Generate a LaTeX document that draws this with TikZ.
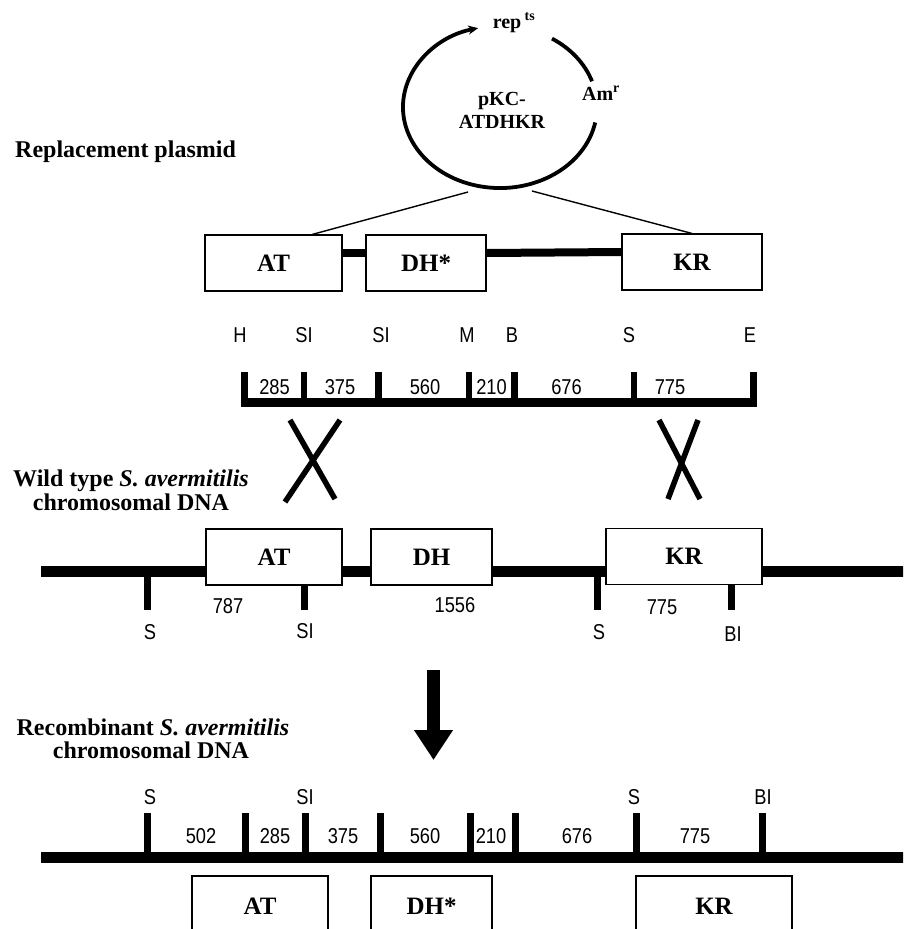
\documentclass[tikz,border=0pt]{standalone}
\usepackage{fontspec}
\setmainfont{Liberation Serif}
\newfontfamily\lsans[FakeStretch=0.85]{Liberation Sans}
\usetikzlibrary{calc,arrows.meta}
\begin{document}
\begin{tikzpicture}[x=1pt,y=-1pt,
  box/.style={draw, line width=1.1pt, fill=white, inner sep=0pt, minimum height=56pt, font=\bfseries\fontsize{25}{25}\selectfont},
  dna/.style={line width=11pt},
  seqbar/.style={line width=9pt},
  link/.style={line width=8pt},
  cut/.style={line width=7pt},
  thinline/.style={line width=1.4pt},
  plasmid/.style={line width=3.8pt},
  sl/.style={font=\lsans\fontsize{21.5}{21.5}\selectfont, inner sep=0pt},
  ttl/.style={font=\bfseries\fontsize{24}{26}\selectfont, inner sep=0pt},
  plab/.style={font=\bfseries\fontsize{20}{23}\selectfont, align=center, inner sep=0pt},
  xmark/.style={line width=5.5pt},
]
\useasboundingbox (0,0) rectangle (903,929);
\clip (0,0) rectangle (903,929);

% ---------- plasmid ----------
\coordinate (pc) at (500,107);
\draw[plasmid, -{Stealth[length=10pt,width=9pt]}] (595.2,122.5) arc[start angle=11, end angle=257, x radius=97, y radius=81];
\draw[plasmid] (552,38.6) arc[start angle=-57.6, end angle=-18.5, x radius=97, y radius=81];
\node[plab] (pname) at (502,110) {pKC-\\ATDHKR};
\node[plab, anchor=base] (rep) at (514,28) {rep\,\textsuperscript{ts}};
\node[plab, anchor=base] (am) at (601,100) {Am\textsuperscript{r}};
\node[ttl, anchor=base west] (rp) at (15,157) {Replacement plasmid};

% ---------- top boxes ----------
\node[box, minimum width=137pt] (atT) at (273.5,263) {AT};
\node[box, minimum width=120pt] (dhT) at (426,263) {DH*};
\node[box, minimum width=140pt] (krT) at (692,262) {KR};
\coordinate (pl) at (468,192);
\coordinate (pr) at (532,191);
\draw[thinline] (pl) -- ($(atT.north west)!0.78!(atT.north east)$);
\draw[thinline] (pr) -- (krT.north);
\draw[link] ([yshift=10pt]atT.east) -- ([yshift=10pt]dhT.west);
\draw[link] ([yshift=10pt]dhT.east) -- ([yshift=10pt]krT.west);

% ---------- restriction map of insert ----------
\foreach \n/\x/\t in {h1/240/H, s1/304/SI, s2/381/SI, m1/467/M, b1/512/B, s3/629/S, e1/750/E}
  \node[sl] (\n) at (\x,335) {\t};
\coordinate (mL) at (241,402);
\coordinate (mR) at (757,402);
\draw[seqbar] (mL) -- (mR);
\foreach \x in {244.5,304,378.5,469,514.5,634,753.5}
  \draw[cut, line width=6.5pt] (\x,372) -- (\x,402);
\foreach \n/\x/\t in {n1/274.5/285, n2/340/375, n3/425/560, n4/491.5/210, n5/566.5/676, n6/670/775}
  \node[sl] (\n) at (\x,387) {\t};

% ---------- crossovers ----------
\draw[xmark] (290,420) -- (335,499);
\draw[xmark] (340,420) -- (285,502);
\draw[xmark] (659,420) -- (700,499);
\draw[xmark] (698,420) -- (668,499);

% ---------- wild type ----------
\node[ttl, anchor=base] (wt1) at (131,486) {Wild type \textit{S. avermitilis}};
\node[ttl, anchor=base] (wt2) at (131,510) {chromosomal DNA};
\coordinate (wL) at (41,571.5);
\coordinate (wR) at (910,571.5);
\draw[dna] (wL) -- (wR);
\node[box, minimum width=136pt] (atW) at (274,557) {AT};
\node[box, minimum width=121pt] (dhW) at (431.5,557) {DH};
\node[box, minimum width=156pt] (krW) at (684,556.5) {KR};
\draw[cut] (147,571) -- (147,610);
\draw[cut] (304,585) -- (304,610);
\draw[cut] (597,571) -- (597,610);
\draw[cut] (731,584) -- (731,610);
\node[sl] (ws1) at (150,632) {S};
\node[sl] (ws2) at (305,631) {SI};
\node[sl] (ws3) at (599,632) {S};
\node[sl] (ws4) at (733,634) {BI};
\node[sl] (wn1) at (228,606) {787};
\node[sl] (wn2) at (455,605) {1556};
\node[sl] (wn3) at (662,607) {775};

% ---------- arrow ----------
\coordinate (ar1) at (433.5,670);
\coordinate (ar2) at (433.5,760);
\draw[line width=13pt, -{Triangle[length=30pt,width=37pt]}] (ar1) -- (ar2);

% ---------- recombinant ----------
\node[ttl, anchor=base] (rc1) at (153,735) {Recombinant \textit{S. avermitilis}};
\node[ttl, anchor=base] (rc2) at (151,758) {chromosomal DNA};
\coordinate (rL) at (41,857.5);
\coordinate (rR) at (910,857.5);
\draw[dna] (rL) -- (rR);
\foreach \x in {147,245,305,380,470,515,636,762}
  \draw[cut] (\x,813) -- (\x,857);
\node[sl] (rs1) at (150,797) {S};
\node[sl] (rs2) at (305,797) {SI};
\node[sl] (rs3) at (634,797) {S};
\node[sl] (rs4) at (763,797) {BI};
\foreach \n/\x/\t in {r1/201/502, r2/275/285, r3/343/375, r4/425/560, r5/491/210, r6/577/676, r7/695/775}
  \node[sl] (\n) at (\x,836) {\t};
\node[box, minimum width=136pt, minimum height=60pt] (atB) at (260,906) {AT};
\node[box, minimum width=121pt, minimum height=60pt] (dhB) at (431.5,906) {DH*};
\node[box, minimum width=156pt, minimum height=60pt] (krB) at (714,906) {KR};
\end{tikzpicture}
\end{document}
